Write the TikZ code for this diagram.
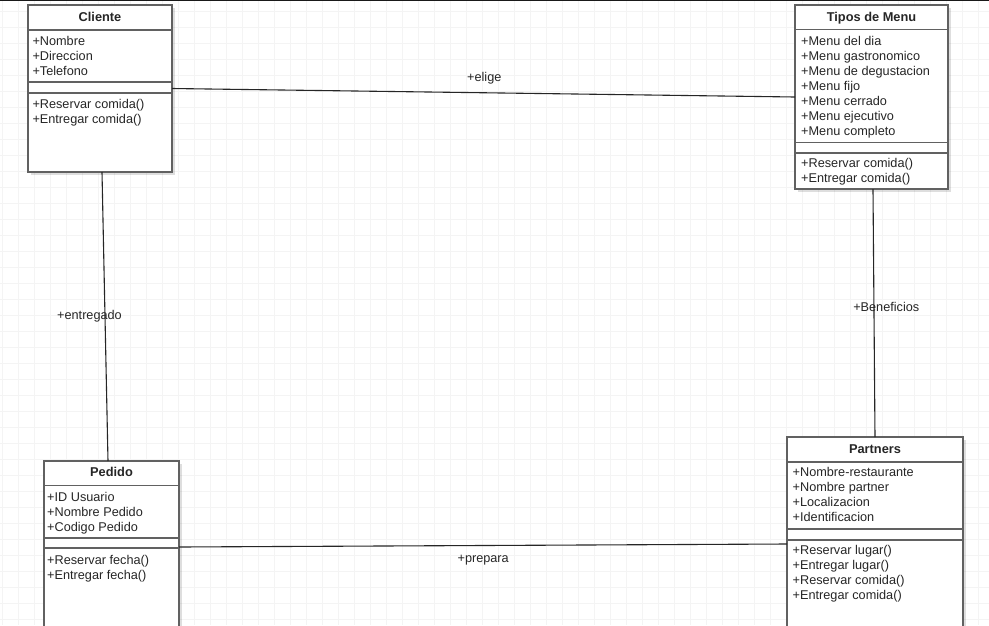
\documentclass[tikz,border=0pt]{standalone}
\usepackage{fontspec}
\setmainfont{Liberation Sans}
\usetikzlibrary{calc,shadows}

\tikzset{
  classbox/.style={draw=black!62, line width=1.5pt, fill=white, outer sep=0pt, inner sep=0pt,
    drop shadow={shadow xshift=3pt, shadow yshift=-3pt, fill=black, opacity=0.13}},
  divline/.style={draw=black!62, line width=1.5pt},
  classtitle/.style={font=\fontsize{12.8}{15}\selectfont\bfseries, inner sep=0pt, text=black!85},
  member/.style={font=\fontsize{12.7}{15}\selectfont, inner sep=0pt, anchor=base west, text=black!85},
  assoc/.style={draw=black!85, line width=1.1pt},
  edgelabel/.style={font=\fontsize{12.7}{15}\selectfont, inner sep=0pt, anchor=base, text=black!85}
}

\begin{document}
\begin{tikzpicture}[x=1pt, y=-1pt]

  % Canvas and grid
  \useasboundingbox (0,0) rectangle (989,625);
  \fill[white] (0,0) rectangle (989,625);
  \begin{scope}
    \clip (0,0) rectangle (989,625);
    \foreach \gx in {2,18,...,994} \draw[gray!9, line width=0.6pt] (\gx,0) -- (\gx,625);
    \foreach \gy in {11,27,...,630} \draw[gray!9, line width=0.6pt] (0,\gy) -- (989,\gy);
    \draw[black!90, line width=1.5pt] (0,0) -- (989,0);

    % Cliente
    \node[classbox, minimum width=144, minimum height=167] (Cliente) at (100,88.5) {};
    \node[classtitle, anchor=base] (Cliente-t) at (100,21.5) {Cliente};
    \draw[divline] (Cliente.west |- 0,30) -- (Cliente.east |- 0,30);
    \draw[divline] (Cliente.west |- 0,82) -- (Cliente.east |- 0,82);
    \draw[divline] (Cliente.west |- 0,93) -- (Cliente.east |- 0,93);
    \foreach [count=\i] \t in {+Nombre, +Direccion, +Telefono}
      \node[member] (Cliente-a\i) at (32.3,{30+15*\i}) {\t};
    \foreach [count=\i] \t in {+Reservar comida(), +Entregar comida()}
      \node[member] (Cliente-m\i) at (32.3,{93.5+15*\i}) {\t};

    % Tipos de Menu
    \node[classbox, minimum width=153, minimum height=184] (Tipos) at (871.5,97) {};
    \node[classtitle, anchor=base] (Tipos-t) at (871.5,21.5) {Tipos de Menu};
    \draw[divline] (Tipos.west |- 0,29.5) -- (Tipos.east |- 0,29.5);
    \draw[divline] (Tipos.west |- 0,142.5) -- (Tipos.east |- 0,142.5);
    \draw[divline] (Tipos.west |- 0,153) -- (Tipos.east |- 0,153);
    \foreach [count=\i] \t in {+Menu del dia, +Menu gastronomico, +Menu de degustacion, +Menu fijo,
        +Menu cerrado, +Menu ejecutivo, +Menu completo}
      \node[member] (Tipos-a\i) at (801,{30+15*\i}) {\t};
    \foreach [count=\i] \t in {+Reservar comida(), +Entregar comida()}
      \node[member] (Tipos-m\i) at (801,{152.5+15*\i}) {\t};

    % Pedido
    \node[classbox, minimum width=135, minimum height=172] (Pedido) at (111.5,547) {};
    \node[classtitle, anchor=base] (Pedido-t) at (111.5,476.5) {Pedido};
    \draw[divline] (Pedido.west |- 0,485.5) -- (Pedido.east |- 0,485.5);
    \draw[divline] (Pedido.west |- 0,538) -- (Pedido.east |- 0,538);
    \draw[divline] (Pedido.west |- 0,548) -- (Pedido.east |- 0,548);
    \foreach [count=\i] \t in {+ID Usuario, +Nombre Pedido, +Codigo Pedido}
      \node[member] (Pedido-a\i) at (47,{486+15*\i}) {\t};
    \foreach [count=\i] \t in {+Reservar fecha(), +Entregar fecha()}
      \node[member] (Pedido-m\i) at (47,{549.5+15*\i}) {\t};

    % Partners
    \node[classbox, minimum width=176, minimum height=214] (Partners) at (875,544) {};
    \node[classtitle, anchor=base] (Partners-t) at (875,453.5) {Partners};
    \draw[divline] (Partners.west |- 0,462) -- (Partners.east |- 0,462);
    \draw[divline] (Partners.west |- 0,529) -- (Partners.east |- 0,529);
    \draw[divline] (Partners.west |- 0,540) -- (Partners.east |- 0,540);
    \foreach [count=\i] \t in {+Nombre-restaurante, +Nombre partner, +Localizacion, +Identificacion}
      \node[member] (Partners-a\i) at (792.5,{461.5+15*\i}) {\t};
    \foreach [count=\i] \t in {+Reservar lugar(), +Entregar lugar(), +Reservar comida(), +Entregar comida()}
      \node[member] (Partners-m\i) at (792.5,{539.5+15*\i}) {\t};

    % Associations
    \draw[assoc] (Cliente.east) -- (Tipos.west);
    \draw[assoc] ([xshift=2]Cliente.south) -- ([xshift=-3.5]Pedido.north);
    \draw[assoc] ([xshift=1.5]Tipos.south) -- (Partners.north);
    \draw[assoc] (Pedido.east) -- (Partners.west);

    % Association labels
    \node[edgelabel] (elige) at (484.3,81) {+elige};
    \node[edgelabel] (entregado) at (89.5,319.5) {+entregado};
    \node[edgelabel] (beneficios) at (886.3,311.7) {+Beneficios};
    \node[edgelabel] (prepara) at (483.2,562.5) {+prepara};
  \end{scope}

\end{tikzpicture}
\end{document}
